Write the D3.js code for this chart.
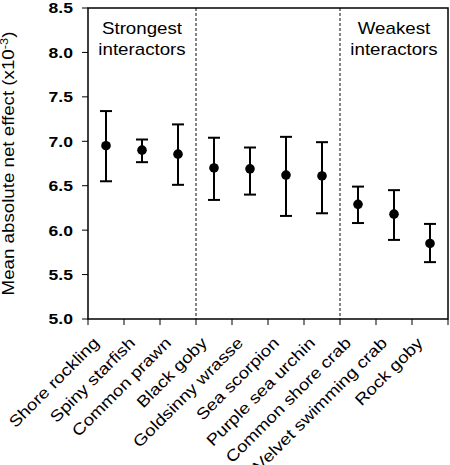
<!DOCTYPE html>
<html>
<head>
<meta charset="utf-8">
<script src="https://cdn.jsdelivr.net/npm/d3@7/dist/d3.min.js"></script>
<style>
  html, body { margin: 0; padding: 0; background: #fff; }
  svg { display: block; }
  text { font-family: "Liberation Sans", Arial, sans-serif; fill: #000; }
</style>
</head>
<body>
<svg id="chart" width="450" height="465"></svg>
<script>
// ---- data ----
const categories = ["Shore rockling", "Spiny starfish", "Common prawn", "Black goby",
  "Goldsinny wrasse", "Sea scorpion", "Purple sea urchin", "Common shore crab",
  "Velvet swimming crab", "Rock goby"];
const meanValues  = [6.95, 6.90, 6.855, 6.70, 6.69, 6.62, 6.61, 6.29, 6.18, 5.85];
const upperValues = [7.34, 7.02, 7.19, 7.04, 6.93, 7.05, 6.99, 6.49, 6.45, 6.07];
const lowerValues = [6.55, 6.765, 6.51, 6.34, 6.40, 6.16, 6.19, 6.08, 5.89, 5.64];
const yTicks = [5.0, 5.5, 6.0, 6.5, 7.0, 7.5, 8.0, 8.5];
const dividerAfter = ["Common prawn", "Purple sea urchin"];
const groupLabels = [
  { lines: ["Strongest", "interactors"], first: "Shore rockling", last: "Common prawn" },
  { lines: ["Weakest", "interactors"], first: "Common shore crab", last: "Rock goby" }
];

// ---- layout ----
const L = 88, R = 448, T = 8, B = 319;
const STRETCH = 1.17;
const svg = d3.select("#chart");

const x = d3.scaleBand().domain(categories).range([L, R]).padding(0);
const y = d3.scaleLinear().domain([5, 8.5]).range([B, T]);

// dashed dividers
dividerAfter.forEach(c => {
  const xv = x(c) + x.bandwidth();
  svg.append("line")
    .attr("x1", xv).attr("x2", xv).attr("y1", T).attr("y2", B)
    .attr("stroke", "#333").attr("stroke-width", 1.2)
    .attr("stroke-dasharray", "3,2");
});

// frame
svg.append("rect")
  .attr("x", L).attr("y", T).attr("width", R - L).attr("height", B - T)
  .attr("fill", "none").attr("stroke", "#000").attr("stroke-width", 1.5);

// y axis ticks + labels
const yAxis = svg.append("g");
yTicks.forEach(v => {
  yAxis.append("line")
    .attr("x1", L - 6).attr("x2", L).attr("y1", y(v)).attr("y2", y(v))
    .attr("stroke", "#000").attr("stroke-width", 1);
  yAxis.append("text")
    .attr("transform", `translate(${L - 15},${y(v)}) scale(${STRETCH},1)`)
    .attr("text-anchor", "end")
    .attr("dy", "0.36em")
    .attr("font-size", 15)
    .attr("font-weight", "bold")
    .text(d3.format(".1f")(v));
});

// x axis ticks at band boundaries
const xAxis = svg.append("g");
d3.range(categories.length + 1).forEach(i => {
  const xv = L + i * x.step();
  xAxis.append("line")
    .attr("x1", xv).attr("x2", xv).attr("y1", B).attr("y2", B + 6)
    .attr("stroke", "#000").attr("stroke-width", 1);
});
categories.forEach(c => {
  const cx = x(c) + x.bandwidth() / 2;
  xAxis.append("text")
    .attr("transform", `translate(${cx - 6},${B + 25}) rotate(-45) scale(${STRETCH},1)`)
    .attr("text-anchor", "end")
    .attr("font-size", 16)
    .text(c);
});

// y label
const yl = svg.append("text")
  .attr("transform", `translate(14,${(T + B) / 2}) rotate(-90) scale(${STRETCH},1)`)
  .attr("text-anchor", "middle")
  .attr("font-size", 16);
yl.append("tspan").text("Mean absolute net effect (x10");
yl.append("tspan").attr("font-size", 11).attr("dy", -6).text("-3");
yl.append("tspan").attr("dy", 6).text(")");

// group labels
groupLabels.forEach(g => {
  const cx = (x(g.first) + x(g.last) + x.bandwidth()) / 2;
  g.lines.forEach((line, i) => {
    svg.append("text")
      .attr("transform", `translate(${cx},${34 + i * 21}) scale(${STRETCH},1)`)
      .attr("text-anchor", "middle")
      .attr("font-size", 16)
      .text(line);
  });
});

// error bars + points
const data = categories.map((c, i) => ({ c, m: meanValues[i], hi: upperValues[i], lo: lowerValues[i] }));
const cap = 6;
const eb = svg.append("g").attr("stroke", "#000").attr("stroke-width", 2);
data.forEach(d => {
  const cx = x(d.c) + x.bandwidth() / 2;
  eb.append("line").attr("x1", cx).attr("x2", cx).attr("y1", y(d.hi)).attr("y2", y(d.lo));
  eb.append("line").attr("x1", cx - cap).attr("x2", cx + cap).attr("y1", y(d.hi)).attr("y2", y(d.hi));
  eb.append("line").attr("x1", cx - cap).attr("x2", cx + cap).attr("y1", y(d.lo)).attr("y2", y(d.lo));
});
svg.append("g").selectAll("circle").data(data).join("circle")
  .attr("cx", d => x(d.c) + x.bandwidth() / 2)
  .attr("cy", d => y(d.m))
  .attr("r", 4.8)
  .attr("fill", "#000");
</script>
</body>
</html>
